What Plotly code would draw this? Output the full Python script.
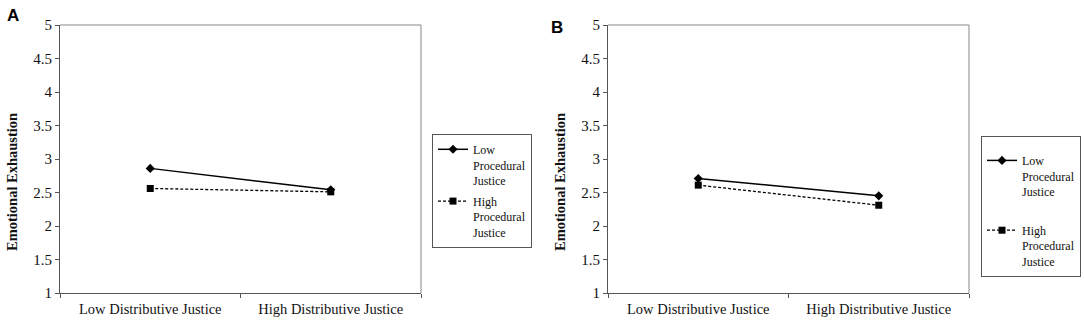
import plotly.graph_objects as go

categories = ["Low Distributive Justice", "High Distributive Justice"]
a_low_pj = [2.86, 2.54]
a_high_pj = [2.56, 2.51]
b_low_pj = [2.71, 2.45]
b_high_pj = [2.61, 2.31]
y_ticks = [1, 1.5, 2, 2.5, 3, 3.5, 4, 4.5, 5]
y_tick_text = ["1", "1.5", "2", "2.5", "3", "3.5", "4", "4.5", "5"]
y_title = "Emotional Exhaustion"
legend_low = "Low<br>Procedural<br>Justice"
legend_high = "High<br>Procedural<br>Justice"

W, H = 1084, 329
SERIF = "Liberation Serif"

fig = go.Figure()

def add_pair(xa, ya, low, high, leg):
    fig.add_trace(go.Scatter(
        x=categories, y=low, xaxis=xa, yaxis=ya, mode="lines+markers",
        name=legend_low, legend=leg, legendgroup=leg + "low",
        line=dict(color="black", width=1.5),
        marker=dict(symbol="diamond", size=7, color="black")))
    fig.add_trace(go.Scatter(
        x=categories, y=high, xaxis=xa, yaxis=ya, mode="lines+markers",
        name=legend_high, legend=leg, legendgroup=leg + "high",
        line=dict(color="black", width=1.3, dash="3px,2px"),
        marker=dict(symbol="square", size=7, color="black")))

add_pair("x", "y", a_low_pj, a_high_pj, "legend")
add_pair("x2", "y2", b_low_pj, b_high_pj, "legend2")

ydom = [36 / H, 304 / H]
xdomA = [60 / W, 421 / W]
xdomB = [608 / W, 969 / W]

xcommon = dict(type="category", range=[-0.5, 1.5], showline=True, linecolor="#555",
               linewidth=1, ticks="outside", tickson="boundaries", ticklen=4,
               tickcolor="#555", showgrid=False, zeroline=False, automargin=False,
               ticklabelstandoff=3,
               tickfont=dict(family=SERIF, size=14.5, color="#111"), fixedrange=True)
ycommon = dict(range=[1, 5], tickvals=y_ticks, ticktext=y_tick_text, showline=True,
               linecolor="#555", linewidth=1, ticks="outside", ticklen=4, tickcolor="#555",
               showgrid=False, zeroline=False, automargin=False, fixedrange=True,
               tickfont=dict(family=SERIF, size=15, color="#111"))

legcommon = dict(bordercolor="#555", borderwidth=1, bgcolor="white",
                 font=dict(family=SERIF, size=12, color="#111"),
                 xanchor="left", yanchor="top", valign="top", itemclick=False,
                 itemdoubleclick=False)

fig.update_layout(
    width=W, height=H, margin=dict(l=0, r=0, t=0, b=0, autoexpand=False),
    font=dict(family=SERIF, color="#111"),
    paper_bgcolor="white", plot_bgcolor="white",
    xaxis=dict(domain=xdomA, anchor="y", **xcommon),
    yaxis=dict(domain=ydom, anchor="x", **ycommon),
    xaxis2=dict(domain=xdomB, anchor="y2", **xcommon),
    yaxis2=dict(domain=ydom, anchor="x2", **ycommon),
    legend=dict(x=432 / W, y=1 - 134 / H, tracegroupgap=2, **legcommon),
    legend2=dict(x=981 / W, y=1 - 136 / H, tracegroupgap=20,
                 title=dict(text=" ", font=dict(family=SERIF, size=7)), **legcommon),
    showlegend=True,
)

for xr, yr in (("x domain", "y domain"), ("x2 domain", "y2 domain")):
    fig.add_shape(type="line", xref=xr, yref=yr, x0=0, x1=1, y0=1, y1=1,
                  line=dict(color="#888", width=1))
    fig.add_shape(type="line", xref=xr, yref=yr, x0=1, x1=1, y0=0, y1=1,
                  line=dict(color="#888", width=1))

for xpx in (12, 560):
    fig.add_annotation(text="<b>" + y_title + "</b>", xref="paper", yref="paper",
                       x=xpx / W, y=1 - 182 / H, xanchor="center", yanchor="middle",
                       textangle=-90, showarrow=False,
                       font=dict(family=SERIF, size=14.5, color="#111"))

fig.add_annotation(text="<b>A</b>", xref="paper", yref="paper", x=5 / W, y=1 - 15 / H,
                   xanchor="left", yanchor="middle", showarrow=False,
                   font=dict(family="Liberation Sans", size=17, color="black"))
fig.add_annotation(text="<b>B</b>", xref="paper", yref="paper", x=549 / W, y=1 - 27 / H,
                   xanchor="left", yanchor="middle", showarrow=False,
                   font=dict(family="Liberation Sans", size=17, color="black"))

fig.write_html("out.html", config={"displayModeBar": False},
               post_script="document.body.style.margin='0';")
